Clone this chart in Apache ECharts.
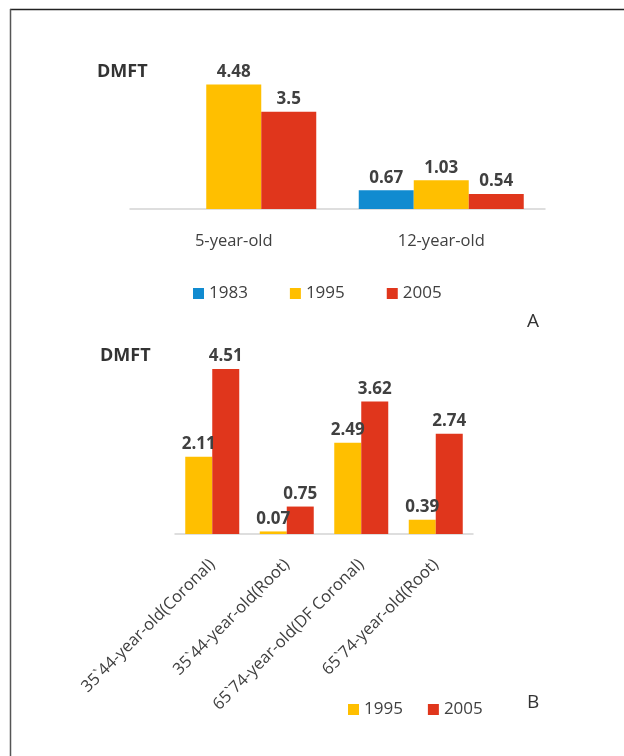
<!DOCTYPE html>
<html>
<head>
<meta charset="utf-8">
<script src="https://cdn.jsdelivr.net/npm/echarts@6/dist/echarts.min.js"></script>
<style>
html,body{margin:0;padding:0;background:#fff;}
#c{width:624px;height:756px;}
</style>
</head>
<body>
<div id="c"></div>
<script>
var categoriesA = ['5-year-old', '12-year-old'];
var a1983 = [null, 0.67];
var a1995 = [4.48, 1.03];
var a2005 = [3.5, 0.54];

var categoriesB = ['35`44-year-old(Coronal)', '35`44-year-old(Root)', '65`74-year-old(DF Coronal)', '65`74-year-old(Root)'];
var b1995 = [2.11, 0.07, 2.49, 0.39];
var b2005 = [4.51, 0.75, 3.62, 2.74];

var legendA = ['1983', '1995', '2005'];
var legendB = ['1995', '2005'];

var BLUE = '#118bd0', YELLOW = '#ffbf00', RED = '#e0361c';
var FONT = '"Open Sans", "Liberation Sans", sans-serif';
var TXT = '#404040';

var chart = echarts.init(document.getElementById('c'));

function barLabel() {
  return { show: true, position: 'top', distance: 4, fontSize: 17, fontWeight: 'bold', color: TXT, fontFamily: FONT };
}

chart.setOption({
  animation: false,
  backgroundColor: '#fff',
  textStyle: { fontFamily: FONT },
  grid: [
    { left: 130, right: 79, top: 70, height: 139 },
    { left: 175, right: 151, top: 351, height: 183 }
  ],
  xAxis: [
    {
      gridIndex: 0, type: 'category', data: categoriesA,
      axisLine: { lineStyle: { color: '#d4d4d4', width: 1.5 } },
      axisTick: { show: false },
      axisLabel: { fontSize: 16.5, color: TXT, margin: 24, fontFamily: FONT }
    },
    {
      gridIndex: 1, type: 'category', data: categoriesB,
      axisLine: { lineStyle: { color: '#d4d4d4', width: 1.5 } },
      axisTick: { show: false },
      axisLabel: { fontSize: 16.5, color: TXT, margin: 28, rotate: 45, interval: 0, fontFamily: FONT }
    }
  ],
  yAxis: [
    { gridIndex: 0, type: 'value', min: 0, max: 5, show: false, splitLine: { show: false } },
    { gridIndex: 1, type: 'value', min: 0, max: 5, show: false, splitLine: { show: false } }
  ],
  legend: [
    {
      data: legendA, left: 193, top: 285, padding: 0, icon: 'rect', itemWidth: 11, itemHeight: 11, itemGap: 42,
      textStyle: { fontSize: 17, color: TXT, fontFamily: FONT }
    },
    {
      data: legendB, left: 348, top: 701, padding: 0, icon: 'rect', itemWidth: 11, itemHeight: 11, itemGap: 25,
      textStyle: { fontSize: 17, color: TXT, fontFamily: FONT }
    }
  ],
  series: [
    { name: '1983', type: 'bar', xAxisIndex: 0, yAxisIndex: 0, data: a1983, barWidth: 55, barGap: '0%', itemStyle: { color: BLUE }, label: barLabel() },
    { name: '1995', type: 'bar', xAxisIndex: 0, yAxisIndex: 0, data: a1995, barWidth: 55, barGap: '0%', itemStyle: { color: YELLOW }, label: barLabel() },
    { name: '2005', type: 'bar', xAxisIndex: 0, yAxisIndex: 0, data: a2005, barWidth: 55, barGap: '0%', itemStyle: { color: RED }, label: barLabel() },
    { name: '1995', type: 'bar', xAxisIndex: 1, yAxisIndex: 1, data: b1995, barWidth: 27, barGap: '0%', itemStyle: { color: YELLOW }, label: barLabel() },
    { name: '2005', type: 'bar', xAxisIndex: 1, yAxisIndex: 1, data: b2005, barWidth: 27, barGap: '0%', itemStyle: { color: RED }, label: barLabel() }
  ],
  graphic: [
    { type: 'line', shape: { x1: 10, y1: 9.5, x2: 624, y2: 9.5 }, style: { stroke: '#222', lineWidth: 1.5 } },
    { type: 'line', shape: { x1: 10.5, y1: 9, x2: 10.5, y2: 756 }, style: { stroke: '#555', lineWidth: 1.5 } },
    { type: 'text', left: 97, top: 63, style: { text: 'DMFT', fontSize: 18, fontWeight: 'bold', fill: '#333', fontFamily: FONT } },
    { type: 'text', left: 100, top: 347, style: { text: 'DMFT', fontSize: 18, fontWeight: 'bold', fill: '#333', fontFamily: FONT } },
    { type: 'text', left: 527, top: 312, style: { text: 'A', fontSize: 19, fill: '#333', fontFamily: FONT } },
    { type: 'text', left: 527, top: 693, style: { text: 'B', fontSize: 19, fill: '#333', fontFamily: FONT } }
  ]
});
</script>
</body>
</html>
